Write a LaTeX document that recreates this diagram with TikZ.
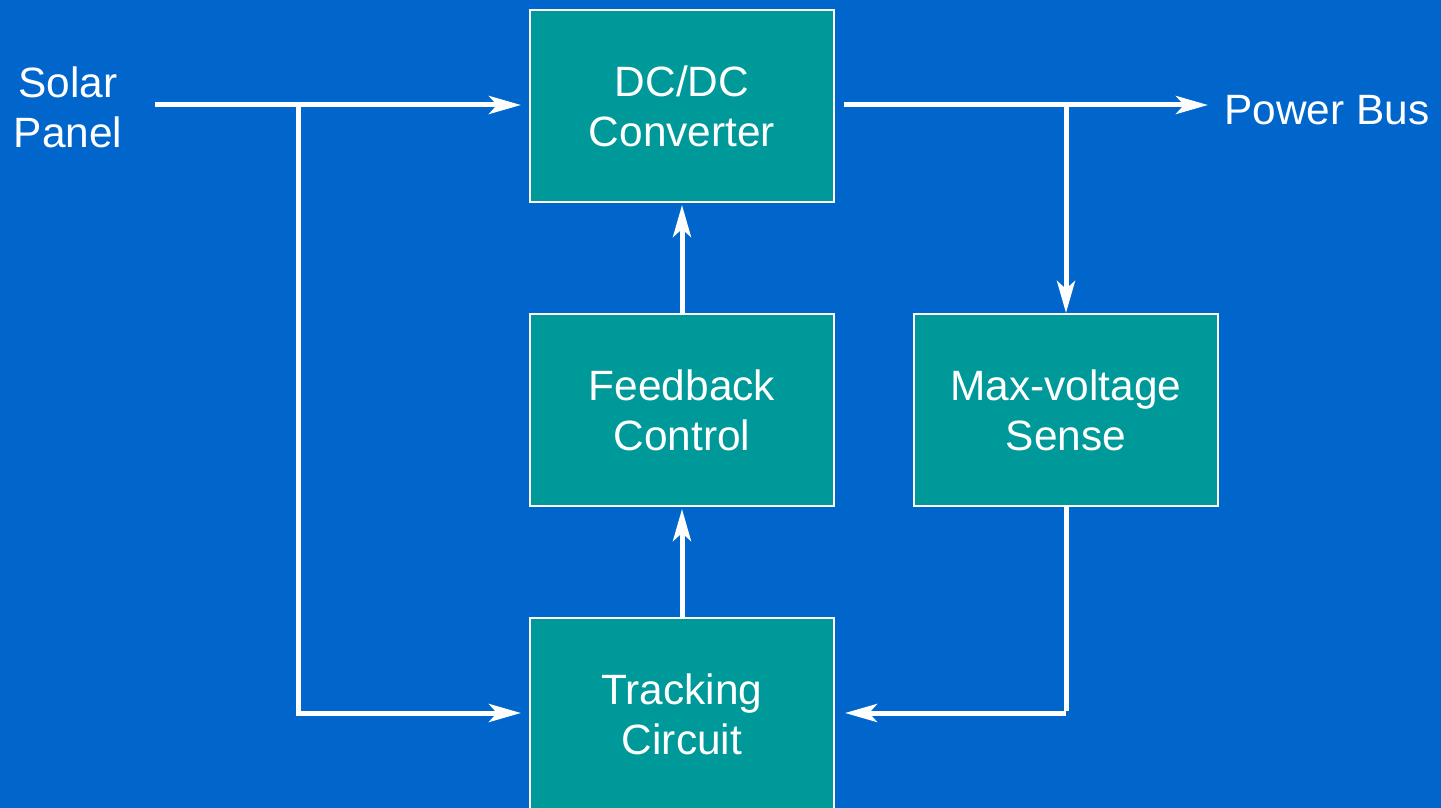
\documentclass[tikz,border=0pt]{standalone}
\usepackage{fontspec}
\setmainfont{Liberation Sans}
\usetikzlibrary{arrows.meta}
\definecolor{bg}{HTML}{0066CC}
\definecolor{teal}{HTML}{009999}
\begin{document}
\begin{tikzpicture}[x=0.5pt,y=-0.5pt,
  blk/.style={draw=white,line width=1pt,fill=teal,minimum width=152pt,minimum height=96pt,inner sep=0pt,align=center,text=white,font=\fontsize{21.2}{25}\selectfont},
  lbl/.style={text=white,align=center,font=\fontsize{21.2}{25}\selectfont,inner sep=0pt},
  wire/.style={draw=white,line width=2.5pt},
  arr/.style={wire,-{Stealth[length=16pt,width=9pt,inset=4pt]}}]
\fill[bg] (0,0) rectangle (1441,808);
\useasboundingbox (0,0) rectangle (1441,808);
\node[blk] (dc) at (682,106) {DC/DC\\Converter};
\node[blk] (fb) at (682,410) {Feedback\\Control};
\node[blk] (mv) at (1066,410) {Max-voltage\\Sense};
\node[blk] (tr) at (682,714) {Tracking\\Circuit};
\node[lbl] (sp) at (68,107) {Solar\\Panel};
\node[lbl,anchor=west] (pb) at (1224,110) {Power Bus};
\coordinate (s0) at (155,105);
\coordinate (s1) at (298,105);
\coordinate (s2) at (298,713);
\coordinate (o0) at (843,105);
\coordinate (o1) at (1066,105);
\coordinate (o2) at (1066,713);
\draw[arr] (s0) -- ([xshift=-4pt]dc.west|-s0);
\draw[wire] (s1) -- (s2);
\draw[arr] ([xshift=-1.25pt]s2) -- ([xshift=-4pt]tr.west|-s2);
\draw[arr] ([xshift=4.5pt]dc.east|-o0) -- ([xshift=-8pt]pb.west|-o0);
\draw[arr] (o1) -- (mv.north);
\draw[wire] (mv.south) -- ([yshift=1.25pt]o2);
\draw[arr] (o2) -- ([xshift=5pt]tr.east|-o2);
\draw[arr] (fb.north) -- ([yshift=-1pt]dc.south);
\draw[arr] (tr.north) -- ([yshift=-1pt]fb.south);
\end{tikzpicture}
\end{document}
